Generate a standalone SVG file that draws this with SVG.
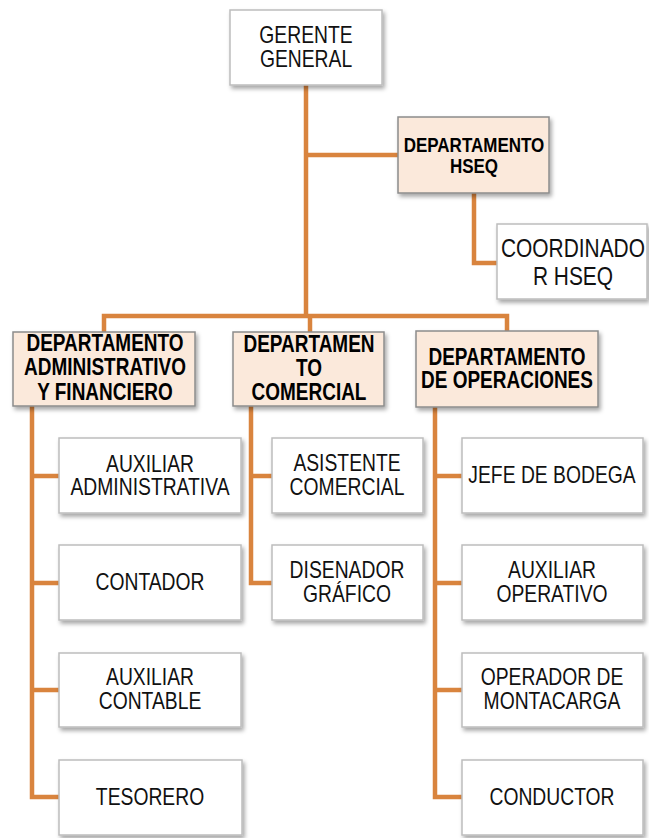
<svg xmlns="http://www.w3.org/2000/svg" width="649" height="838" viewBox="0 0 649 838">
<defs>
<filter id="sh" x="-10%" y="-10%" width="130%" height="140%">
<feDropShadow dx="2" dy="3" stdDeviation="2" flood-color="#000" flood-opacity="0.35"/>
</filter>
</defs>
<style>
.box{fill:#ffffff;stroke:#bdbdbd;stroke-width:1.5;filter:url(#sh)}
.dept{fill:#fbe9db;stroke:#8c8c8c;stroke-width:1.5;filter:url(#sh)}
.t{font-family:"Liberation Sans Narrow","Arial Narrow","Liberation Sans",Arial,sans-serif;font-size:23px;fill:#111;text-anchor:middle}
.b{font-weight:bold;fill:#000}
.s{font-size:21px}
.l{font-size:25.5px}
.c{fill:none;stroke:#d9843e;stroke-width:4.5;stroke-linejoin:miter;stroke-linecap:butt}
</style>
<rect width="649" height="838" fill="#ffffff"/>
<g id="connectors">
<path class="c" d="M306,85V316"/>
<path class="c" d="M306,155H398"/>
<path class="c" d="M474,193V263H497"/>
<path class="c" d="M104,332V316H507V331"/>
<path class="c" d="M310,316V332"/>
<path class="c" d="M32,406V797H59M32,476H59M32,583H59M32,690H59"/>
<path class="c" d="M251,406V583H272M251,476H272"/>
<path class="c" d="M435,407V797H462M435,476H462M435,583H462M435,690H462"/>
</g>
<g id="gerente">
<rect class="box" x="230" y="10" width="152" height="75"/>
<g transform="translate(306 0) scale(0.84 1)">
<text class="t" x="0" y="43">GERENTE</text>
<text class="t" x="0" y="67">GENERAL</text>
</g>
</g>
<g id="dept-hseq">
<rect class="dept" x="398" y="117" width="151" height="76"/>
<g transform="translate(474 0) scale(0.81 1)">
<text class="t b s" x="0" y="152">DEPARTAMENTO</text>
<text class="t b s" x="0" y="173">HSEQ</text>
</g>
</g>
<g id="coordinador-hseq">
<rect class="box" x="497" y="224" width="150" height="75"/>
<g transform="translate(573 0) scale(0.82 1)">
<text class="t l" x="0" y="257">COORDINADO</text>
<text class="t l" x="0" y="285">R HSEQ</text>
</g>
</g>
<g id="dept-admin">
<rect class="dept" x="13" y="332" width="182" height="74"/>
<g transform="translate(105 0) scale(0.825 1)">
<text class="t b" x="0" y="351">DEPARTAMENTO</text>
<text class="t b" x="0" y="375">ADMINISTRATIVO</text>
<text class="t b" x="0" y="400">Y FINANCIERO</text>
</g>
</g>
<g id="dept-comercial">
<rect class="dept" x="233" y="332" width="151" height="74"/>
<g transform="translate(309 0) scale(0.825 1)">
<text class="t b" x="0" y="352">DEPARTAMEN</text>
<text class="t b" x="0" y="376">TO</text>
<text class="t b" x="0" y="400">COMERCIAL</text>
</g>
</g>
<g id="dept-operaciones">
<rect class="dept" x="416" y="331" width="182" height="76"/>
<g transform="translate(507 0) scale(0.825 1)">
<text class="t b" x="0" y="365">DEPARTAMENTO</text>
<text class="t b" x="0" y="388">DE OPERACIONES</text>
</g>
</g>
<g id="auxiliar-administrativa">
<rect class="box" x="59" y="438" width="182" height="75"/>
<g transform="translate(150 0) scale(0.84 1)">
<text class="t" x="0" y="472">AUXILIAR</text>
<text class="t" x="0" y="495">ADMINISTRATIVA</text>
</g>
</g>
<g id="contador">
<rect class="box" x="59" y="545" width="182" height="75"/>
<g transform="translate(150 0) scale(0.84 1)">
<text class="t" x="0" y="590">CONTADOR</text>
</g>
</g>
<g id="auxiliar-contable">
<rect class="box" x="59" y="653" width="182" height="74"/>
<g transform="translate(150 0) scale(0.84 1)">
<text class="t" x="0" y="685">AUXILIAR</text>
<text class="t" x="0" y="709">CONTABLE</text>
</g>
</g>
<g id="tesorero">
<rect class="box" x="59" y="760" width="183" height="75"/>
<g transform="translate(150 0) scale(0.84 1)">
<text class="t" x="0" y="805">TESORERO</text>
</g>
</g>
<g id="asistente-comercial">
<rect class="box" x="272" y="438" width="151" height="75"/>
<g transform="translate(347 0) scale(0.84 1)">
<text class="t" x="0" y="471">ASISTENTE</text>
<text class="t" x="0" y="495">COMERCIAL</text>
</g>
</g>
<g id="disenador-grafico">
<rect class="box" x="272" y="545" width="151" height="75"/>
<g transform="translate(347 0) scale(0.84 1)">
<text class="t" x="0" y="578">DISENADOR</text>
<text class="t" x="0" y="602">GRÁFICO</text>
</g>
</g>
<g id="jefe-bodega">
<rect class="box" x="462" y="438" width="181" height="75"/>
<g transform="translate(552 0) scale(0.84 1)">
<text class="t" x="0" y="483">JEFE DE BODEGA</text>
</g>
</g>
<g id="auxiliar-operativo">
<rect class="box" x="462" y="545" width="181" height="75"/>
<g transform="translate(552 0) scale(0.84 1)">
<text class="t" x="0" y="578">AUXILIAR</text>
<text class="t" x="0" y="602">OPERATIVO</text>
</g>
</g>
<g id="operador-montacarga">
<rect class="box" x="462" y="653" width="181" height="74"/>
<g transform="translate(552 0) scale(0.84 1)">
<text class="t" x="0" y="685">OPERADOR DE</text>
<text class="t" x="0" y="709">MONTACARGA</text>
</g>
</g>
<g id="conductor">
<rect class="box" x="462" y="760" width="181" height="75"/>
<g transform="translate(552 0) scale(0.84 1)">
<text class="t" x="0" y="805">CONDUCTOR</text>
</g>
</g>
</svg>
